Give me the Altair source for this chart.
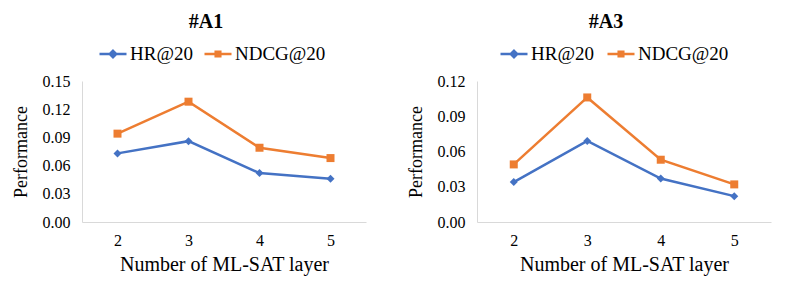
import altair as alt
import pandas as pd

# ---- data ----
LAYERS = [2, 3, 4, 5]
METRICS = ["HR@20", "NDCG@20"]
COLORS = ["#4472C4", "#ED7D31"]

A1_HR = [0.073, 0.086, 0.052, 0.046]
A1_NDCG = [0.094, 0.128, 0.079, 0.068]
A3_HR = [0.034, 0.069, 0.037, 0.022]
A3_NDCG = [0.049, 0.106, 0.053, 0.032]

A1_TICKS = [0.0, 0.03, 0.06, 0.09, 0.12, 0.15]
A3_TICKS = [0.0, 0.03, 0.06, 0.09, 0.12]

FONT = "Liberation Serif"
SHAPES = ["diamond", "square"]
LEGEND_PATHS = [
    "M-1,0H1M0,-0.24L0.24,0L0,0.24L-0.24,0Z",
    "M-1,0H1M-0.17,-0.17H0.17V0.17H-0.17Z",
]


def make_df(hr, ndcg):
    rows = []
    for m, vals in zip(METRICS, [hr, ndcg]):
        for l, v in zip(LAYERS, vals):
            rows.append({"layer": l, "metric": m, "value": v})
    return pd.DataFrame(rows)


def panel(title, hr, ndcg, ticks, width, legend_xs):
    df = make_df(hr, ndcg)
    x = alt.X("layer:O", axis=alt.Axis(labelAngle=0, title="Number of ML-SAT layer"))
    y = alt.Y("value:Q", scale=alt.Scale(domain=[ticks[0], ticks[-1]], nice=False),
              axis=alt.Axis(values=ticks, format=".2f", title="Performance"))
    series = []
    for i, m in enumerate(METRICS):
        base = alt.Chart(df[df["metric"] == m])
        line = base.mark_line(color=COLORS[i], strokeWidth=2.5).encode(x=x, y=y)
        pts = base.mark_point(shape=SHAPES[i], filled=True, size=64, opacity=1).encode(
            x=x, y=y,
            color=alt.Color("metric:N",
                            scale=alt.Scale(domain=[m], range=[COLORS[i]]),
                            legend=alt.Legend(
                                title=None, orient="none",
                                legendX=legend_xs[i], legendY=-42,
                                symbolType=LEGEND_PATHS[i], symbolSize=729,
                                symbolStrokeColor=COLORS[i], symbolStrokeWidth=2.5,
                                symbolOpacity=1,
                                labelFont=FONT, labelFontSize=19, labelColor="#000000",
                                labelOffset=2, padding=0,
                            )),
        )
        series.append(alt.layer(line, pts))
    return alt.layer(*series).resolve_scale(color="independent").properties(
        width=width, height=141,
        title=alt.TitleParams(title, font=FONT, fontSize=20, fontWeight="bold",
                              color="#000000", dx=-18, offset=7),
    )


left = panel("#A1", A1_HR, A1_NDCG, A1_TICKS, 284, [16, 121])
right = panel("#A3", A3_HR, A3_NDCG, A3_TICKS, 294, [22, 129])

chart = alt.hconcat(left, right, spacing=41).resolve_scale(
    color="independent").resolve_legend(color="independent").properties(
    padding={"left": 4, "top": 4, "right": 2, "bottom": 2}
).configure_view(stroke=None).configure_axis(
    domainColor="#D9D9D9", domainWidth=1, ticks=False, grid=False,
    labelFont=FONT, labelFontSize=16, labelColor="#000000",
    titleFont=FONT, titleFontWeight="normal", titleColor="#000000",
).configure_axisX(
    labelPadding=10, titleFontSize=20, titlePadding=6,
).configure_axisY(
    labelPadding=12, titleFontSize=18, titlePadding=12,
)

chart.save("out.html", embed_options={"renderer": "svg", "actions": False})
